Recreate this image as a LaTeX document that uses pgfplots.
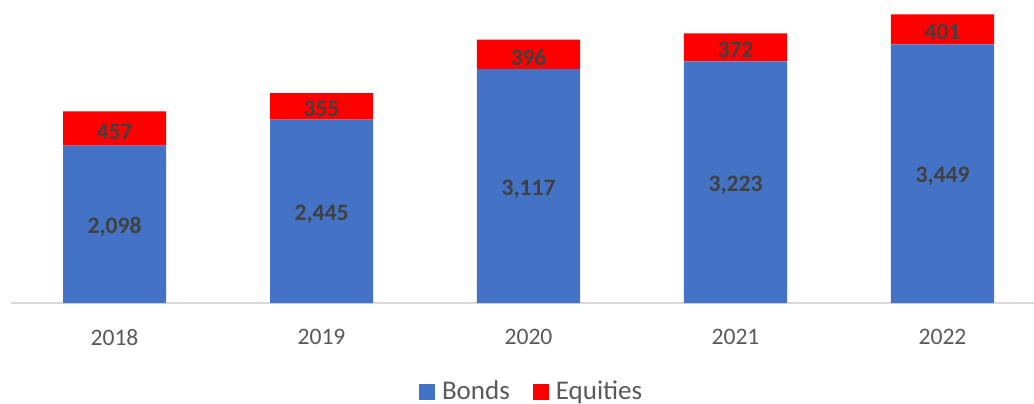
\documentclass[border=0pt]{standalone}
\usepackage{pgfplots}
\pgfplotsset{compat=1.18}
\usepackage{pgfplotstable}
\usepackage{fontspec}
\setmainfont{Carlito}

\definecolor{bonds}{HTML}{4472C4}
\definecolor{equities}{HTML}{FF0000}
\definecolor{ticktext}{HTML}{595959}
\definecolor{labeltext}{HTML}{404040}
\definecolor{axisline}{HTML}{D9D9D9}

\newcommand\tickfont{\fontsize{11.8}{14}\selectfont}
\newcommand\legendfont{\fontsize{13.5}{15}\selectfont}

% assets in EUR mn, per year
\pgfplotstableread{
x year bonds equities
0 2018 2098 457
1 2019 2445 355
2 2020 3117 396
3 2021 3223 372
4 2022 3449 401
}\assets

\begin{document}
\begin{tikzpicture}
\useasboundingbox (0,0) rectangle (517pt,201.5pt);
\begin{axis}[
    at={(5.5pt,50pt)}, anchor=south west,
    scale only axis, width=517.5pt, height=151.5pt,
    ybar stacked, bar width=51.5pt,
    xmin=-0.5, xmax=4.5, ymin=0, ymax=4040,
    axis x line=bottom, axis y line=none,
    x axis line style={-, draw=axisline, line width=0.75pt},
    xtick={0,...,4}, xticklabels={2018,2019,2020,2021,2022},
    major tick length=0pt,
    xticklabel style={font=\tickfont, text=ticktext, inner sep=0pt, anchor=north, yshift=-13pt},
    /pgf/number format/assume math mode=true,
    visualization depends on={rawy \as \rawy},
    nodes near coords={\pgfmathprintnumber[fixed,precision=0,1000 sep={,}]{\rawy}},
    % centre anchor already puts the label mid-segment for stacked bars
    every node near coord/.append style={anchor=center, font=\tickfont\bfseries,
        text=labeltext, yshift=-1.5pt},
    legend style={at={(0.504,-0.294)}, anchor=center, draw=none, fill=none,
        legend columns=2, font=\legendfont, text=ticktext,
        /tikz/every even column/.append style={column sep=9.5pt}},
    legend image code/.code={\fill[#1] (0pt,-4pt) rectangle (8pt,4pt); \path (9.5pt,0pt);},
]
\addplot[fill=bonds, draw=none] table[x=x, y=bonds] {\assets};
\addplot[fill=equities, draw=none] table[x=x, y=equities] {\assets};
\legend{Bonds, Equities}
\end{axis}
\end{tikzpicture}
\end{document}
